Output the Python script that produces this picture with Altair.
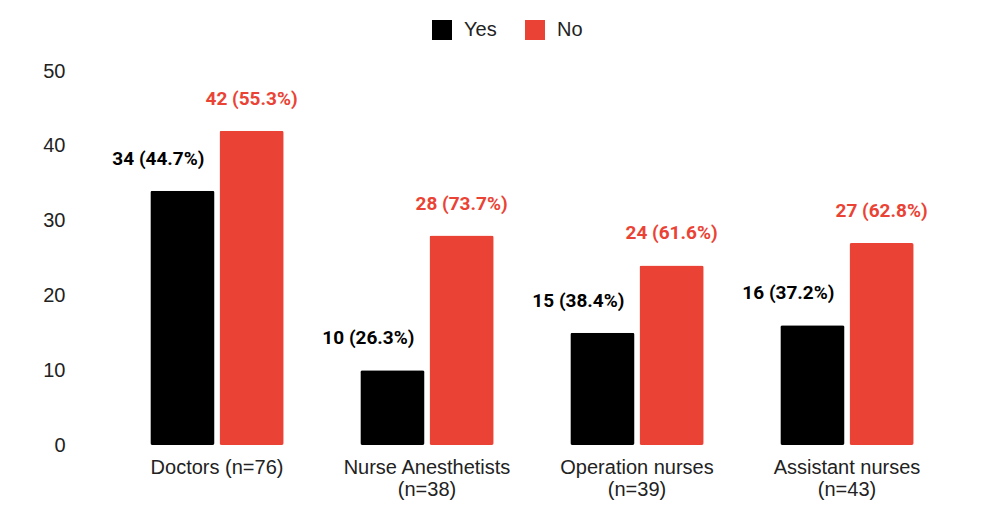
import altair as alt
import pandas as pd

# Staff groups and answer counts
cat_short = ["Doctors (n=76)", "Nurse Anesthetists|(n=38)", "Operation nurses|(n=39)", "Assistant nurses|(n=43)"]
yes_counts = [34, 10, 15, 16]
no_counts = [42, 28, 24, 27]
yes_pct = ["44.7%", "26.3%", "38.4%", "37.2%"]
no_pct = ["55.3%", "73.7%", "61.6%", "62.8%"]

rows = []
for c, y, n, yp, np_ in zip(cat_short, yes_counts, no_counts, yes_pct, no_pct):
    rows.append({"group": c, "answer": "Yes", "count": y, "label": f"{y} ({yp})"})
    rows.append({"group": c, "answer": "No", "count": n, "label": f"{n} ({np_})"})
df = pd.DataFrame(rows)

answers = ["Yes", "No"]
colors = ["#000000", "#EA4335"]

x_enc = alt.X(
    "group:N",
    sort=cat_short,
    scale=alt.Scale(paddingInner=0.365, paddingOuter=0.1825),
    axis=alt.Axis(
        title=None, labelAngle=0, domain=False, ticks=False, labelPadding=12,
        labelFont="Liberation Sans", labelFontSize=20, labelColor="#222222",
        labelExpr="split(datum.label, '|')", labelLineHeight=22,
    ),
)
xoff = alt.XOffset("answer:N", sort=answers, scale=alt.Scale(paddingInner=0.072, paddingOuter=0))
y_enc = alt.Y(
    "count:Q",
    scale=alt.Scale(domain=[0, 50]),
    axis=alt.Axis(
        title=None, values=[0, 10, 20, 30, 40, 50], grid=False, domain=False, ticks=False,
        labelPadding=47, labelFont="Liberation Sans", labelFontSize=20, labelColor="#222222",
    ),
)
color_enc = alt.Color(
    "answer:N",
    sort=answers,
    scale=alt.Scale(domain=answers, range=colors),
    legend=alt.Legend(
        title=None, orient="none", direction="horizontal", legendX=320, legendY=-51,
        symbolType="square", symbolSize=400, symbolStrokeWidth=0, symbolOpacity=1,
        labelFont="Liberation Sans", labelFontSize=20, labelColor="#222222",
        labelOffset=12, columnPadding=28,
    ),
)

bars = alt.Chart(df).mark_bar(cornerRadius=2).encode(
    x=x_enc, xOffset=xoff, y=y_enc, color=color_enc
)

text_yes = alt.Chart(df).transform_filter(alt.datum.answer == "Yes").mark_text(
    font="Roboto", fontWeight="bold", fontSize=19, baseline="middle", dy=-32, dx=-24, color="#000000"
).encode(x=alt.X("group:N", sort=cat_short), xOffset=xoff, y="count:Q", text="label:N")

text_no = alt.Chart(df).transform_filter(alt.datum.answer == "No").mark_text(
    font="Roboto", fontWeight="bold", fontSize=19, baseline="middle", dy=-32, color="#EA4335"
).encode(x=alt.X("group:N", sort=cat_short), xOffset=xoff, y="count:Q", text="label:N")

chart = alt.layer(bars, text_yes, text_no).properties(
    width=840, height=374,
    background="white",
    autosize=alt.AutoSizeParams(type="none"),
    padding={"left": 112, "top": 71, "right": 34, "bottom": 74},
).configure_view(strokeWidth=0, stroke=None)

chart.save("out.html", embed_options={"renderer": "svg", "actions": False})
